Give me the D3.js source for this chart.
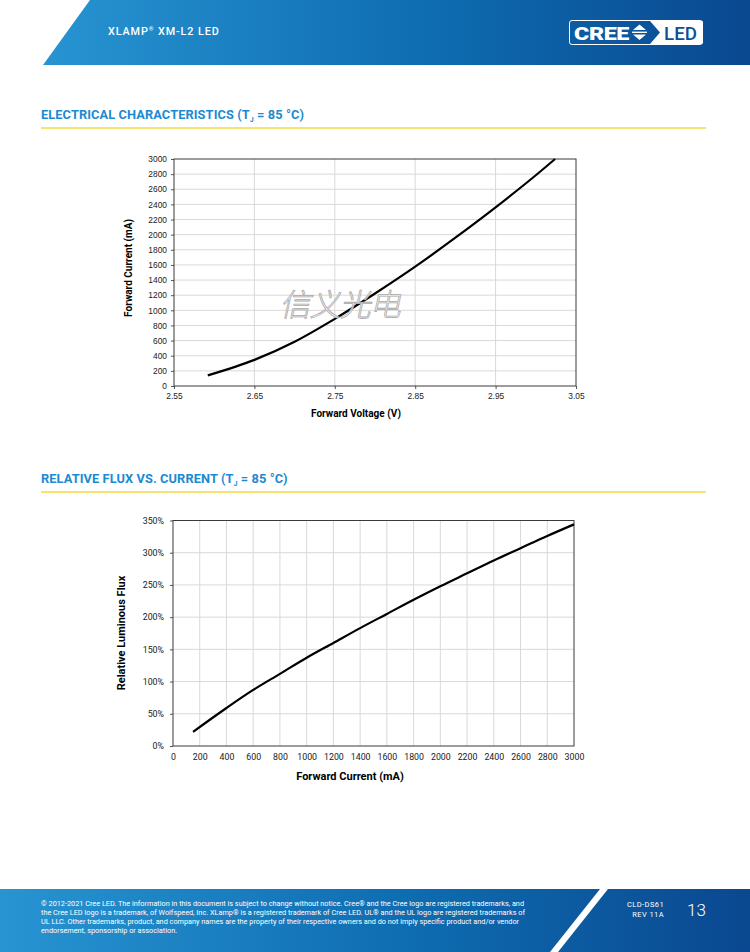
<!DOCTYPE html>
<html>
<head>
<meta charset="utf-8">
<script src="https://cdn.jsdelivr.net/npm/d3@7"></script>
<style>
body { margin: 0; background: #fff; }
svg { display: block; }
</style>
</head>
<body>
<script>
// chart 1: forward voltage vs current
var vfTicks = [2.55, 2.65, 2.75, 2.85, 2.95, 3.05];
var ifTicks = [0, 200, 400, 600, 800, 1000, 1200, 1400, 1600, 1800, 2000, 2200, 2400, 2600, 2800, 3000];
var vfVolts = [2.592, 2.65, 2.70, 2.75, 2.80, 2.85, 2.90, 2.95, 3.00, 3.024];
var vfCurrent = [140, 345, 585, 887, 1222, 1577, 1960, 2361, 2785, 3000];

// chart 2: relative flux vs current
var fluxTicks = [0, 50, 100, 150, 200, 250, 300, 350];
var curTicks = [0, 200, 400, 600, 800, 1000, 1200, 1400, 1600, 1800, 2000, 2200, 2400, 2600, 2800, 3000];
var fluxCurrent = [150, 400, 600, 800, 1000, 1200, 1400, 1600, 1800, 2000, 2200, 2400, 2600, 2800, 3000];
var fluxValue = [22, 59, 87, 112, 137, 160, 183, 205, 227, 248, 268, 288, 307, 326, 344];

var footerLines = [
  "\u00a9 2012-2021 Cree LED. The information in this document is subject to change without notice. Cree\u00ae and the Cree logo are registered trademarks, and",
  "the Cree LED logo is a trademark, of Wolfspeed, Inc. XLamp\u00ae is a registered trademark of Cree LED. UL\u00ae and the UL logo are registered trademarks of",
  "UL LLC. Other trademarks, product, and company names are the property of their respective owners and do not imply specific product and/or vendor",
  "endorsement, sponsorship or association."
];

var W = 750, H = 952;
var svg = d3.select("body").append("svg").attr("width", W).attr("height", H);
var defs = svg.append("defs");

var grad = defs.append("linearGradient").attr("id", "band").attr("x1", "0").attr("x2", "1").attr("y1", "0").attr("y2", "0");
grad.append("stop").attr("offset", "0%").attr("stop-color", "#2894d2");
grad.append("stop").attr("offset", "55%").attr("stop-color", "#0e6cb0");
grad.append("stop").attr("offset", "100%").attr("stop-color", "#0a4890");

// HEADER
svg.append("polygon").attr("points", "90,0 750,0 750,65 43,65").attr("fill", "url(#band)");
var ht = svg.append("text").attr("x", 108).attr("y", 35).attr("fill", "#fff")
  .style("font-family", "Roboto").style("font-size", "10.8px").style("font-weight", "500").style("letter-spacing", "0.9px");
ht.append("tspan").text("XLAMP");
ht.append("tspan").attr("dy", -4).style("font-size", "6px").text("\u00ae");
ht.append("tspan").attr("dy", 4).text(" XM-L2 LED");

// logo
var logo = svg.append("g");
logo.append("rect").attr("x", 569.5).attr("y", 20.5).attr("width", 133).attr("height", 24).attr("rx", 2.5)
  .attr("fill", "none").attr("stroke", "#fff").attr("stroke-width", 1);
logo.append("path").attr("d", "M650,21 L702,21 Q703,21 703,23 L703,42 Q703,44 701,44 L650,44 L660,32.5 Z").attr("fill", "#fff");
logo.append("text").attr("x", 574).attr("y", 39.5).attr("fill", "#fff")
  .style("font-family", "Roboto").style("font-weight", "900").style("font-size", "19px").style("letter-spacing", "-0.3px")
  .attr("textLength", 55).attr("lengthAdjust", "spacingAndGlyphs").text("CREE");
logo.append("path").attr("d", "M639.5,24.5 L646,30 L633,30 Z M639.5,40 L646,34.5 L633,34.5 Z").attr("fill", "#fff");
logo.append("rect").attr("x", 632).attr("y", 31.6).attr("width", 15).attr("height", 1.4).attr("fill", "#fff");
logo.append("text").attr("x", 664).attr("y", 39.5).attr("fill", "#0c4f97")
  .style("font-family", "Roboto").style("font-weight", "500").style("font-size", "19px")
  .attr("textLength", 33).attr("lengthAdjust", "spacingAndGlyphs").text("LED");

// SECTION TITLES
function sectionTitle(y, txt) {
  var t = svg.append("text").attr("x", 41).attr("y", y).attr("fill", "#1b8ad2")
    .style("font-family", "Roboto").style("font-weight", "700").style("font-size", "12.8px").style("letter-spacing", "0.1px");
  t.append("tspan").text(txt + " (T");
  t.append("tspan").attr("dy", 3).style("font-size", "7px").text("J");
  t.append("tspan").attr("dy", -3).text(" = 85 \u00b0C)");
  svg.append("line").attr("x1", 41).attr("x2", 706).attr("y1", y + 9).attr("y2", y + 9)
    .attr("stroke", "#f6d940").attr("stroke-width", 1.5);
}
sectionTitle(119, "ELECTRICAL CHARACTERISTICS");
sectionTitle(483, "RELATIVE FLUX VS. CURRENT");

// CHART 1
var x1 = d3.scaleLinear().domain([2.55, 3.05]).range([174, 576]);
var y1 = d3.scaleLinear().domain([0, 3000]).range([386, 159]);
var g1 = svg.append("g");

g1.selectAll("line.vg").data(vfTicks.slice(1, -1)).enter().append("line")
  .attr("x1", function(d){ return x1(d); }).attr("x2", function(d){ return x1(d); })
  .attr("y1", 159).attr("y2", 386).attr("stroke", "#d9d9d9");
g1.selectAll("line.hg").data(ifTicks.slice(1, -1)).enter().append("line")
  .attr("y1", function(d){ return y1(d); }).attr("y2", function(d){ return y1(d); })
  .attr("x1", 174).attr("x2", 576).attr("stroke", "#d9d9d9");

var ax1 = g1.append("g").attr("transform", "translate(0,386)")
  .call(d3.axisBottom(x1).tickValues(vfTicks).tickFormat(d3.format(".2f")).tickSize(3).tickPadding(4));
var ay1 = g1.append("g").attr("transform", "translate(174,0)")
  .call(d3.axisLeft(y1).tickValues(ifTicks).tickFormat(d3.format("d")).tickSize(3).tickPadding(4));
[ax1, ay1].forEach(function(a){
  a.select(".domain").remove();
  a.selectAll("line").attr("stroke", "#555");
  a.selectAll("text").style("font-family", "Liberation Sans").style("font-size", "8.4px").attr("fill", "#1a1a1a");
});
g1.append("rect").attr("x", 174).attr("y", 159).attr("width", 402).attr("height", 227)
  .attr("fill", "none").attr("stroke", "#3a3a3a").attr("stroke-width", 1);

// watermark
svg.append("text").attr("x", 341).attr("y", 316).attr("text-anchor", "middle")
  .attr("transform", "skewX(-12) translate(66,0)")
  .style("font-family", "Noto Sans CJK SC").style("font-size", "31px").style("font-weight", "300")
  .attr("fill", "#fff").attr("fill-opacity", 0.85).attr("stroke", "#a8a8a8").attr("stroke-width", 0.8)
  .style("letter-spacing", "-1px").text("信义光电");

var line1 = d3.line().x(function(d){ return x1(d[0]); }).y(function(d){ return y1(d[1]); }).curve(d3.curveMonotoneX);
g1.append("path").datum(d3.zip(vfVolts, vfCurrent)).attr("d", line1)
  .attr("fill", "none").attr("stroke", "#000").attr("stroke-width", 2.2);

g1.append("text").attr("x", 356).attr("y", 417).attr("text-anchor", "middle")
  .style("font-family", "Roboto").style("font-weight", "700").style("font-size", "10px").text("Forward Voltage (V)");
g1.append("text").attr("transform", "translate(132,268) rotate(-90)").attr("text-anchor", "middle")
  .style("font-family", "Roboto").style("font-weight", "700").style("font-size", "10px").text("Forward Current (mA)");

// CHART 2
var x2 = d3.scaleLinear().domain([0, 3000]).range([173, 574]);
var y2 = d3.scaleLinear().domain([0, 350]).range([746, 520.5]);
var g2 = svg.append("g");

g2.selectAll("line.vg").data(curTicks.slice(1, -1)).enter().append("line")
  .attr("x1", function(d){ return x2(d); }).attr("x2", function(d){ return x2(d); })
  .attr("y1", 520.5).attr("y2", 746).attr("stroke", "#d9d9d9");
g2.selectAll("line.hg").data(fluxTicks.slice(1, -1)).enter().append("line")
  .attr("y1", function(d){ return y2(d); }).attr("y2", function(d){ return y2(d); })
  .attr("x1", 173).attr("x2", 574).attr("stroke", "#d9d9d9");

var ax2 = g2.append("g").attr("transform", "translate(0,746)")
  .call(d3.axisBottom(x2).tickValues(curTicks).tickFormat(d3.format("d")).tickSize(0).tickPadding(8));
var ay2 = g2.append("g").attr("transform", "translate(173,0)")
  .call(d3.axisLeft(y2).tickValues(fluxTicks).tickFormat(function(d){ return d + "%"; }).tickSize(3).tickPadding(6));
[ax2, ay2].forEach(function(a){
  a.select(".domain").remove();
  a.selectAll("line").attr("stroke", "#555");
  a.selectAll("text").style("font-family", "Roboto").style("font-size", "8.8px").attr("fill", "#1a1a1a");
});
g2.append("rect").attr("x", 173).attr("y", 520.5).attr("width", 401).attr("height", 225.5)
  .attr("fill", "none").attr("stroke", "#3a3a3a").attr("stroke-width", 1);

var line2 = d3.line().x(function(d){ return x2(d[0]); }).y(function(d){ return y2(d[1]); }).curve(d3.curveMonotoneX);
g2.append("path").datum(d3.zip(fluxCurrent, fluxValue)).attr("d", line2)
  .attr("fill", "none").attr("stroke", "#000").attr("stroke-width", 2.2);

g2.append("text").attr("x", 350).attr("y", 780).attr("text-anchor", "middle")
  .style("font-family", "Roboto").style("font-weight", "700").style("font-size", "11px").text("Forward Current (mA)");
g2.append("text").attr("transform", "translate(125,633) rotate(-90)").attr("text-anchor", "middle")
  .style("font-family", "Roboto").style("font-weight", "700").style("font-size", "11px").text("Relative Luminous Flux");

// FOOTER
svg.append("rect").attr("x", 0).attr("y", 889).attr("width", W).attr("height", H - 889).attr("fill", "url(#band)");
svg.append("polygon").attr("points", "600,889 608,889 558,952 550,952").attr("fill", "#fff");
svg.selectAll("text.foot").data(footerLines).enter().append("text")
  .attr("x", 41).attr("y", function(d, i){ return 906 + i * 9; })
  .attr("fill", "#fff").style("font-family", "Roboto").style("font-size", "7.3px").text(function(d){ return d; });
svg.append("text").attr("x", 664).attr("y", 907).attr("text-anchor", "end").attr("fill", "#fff")
  .style("font-family", "Roboto").style("font-size", "7.5px").style("letter-spacing", "0.4px").text("CLD-DS61");
svg.append("text").attr("x", 664).attr("y", 917).attr("text-anchor", "end").attr("fill", "#fff")
  .style("font-family", "Roboto").style("font-size", "7.5px").style("letter-spacing", "0.4px").text("REV 11A");
svg.append("text").attr("x", 687).attr("y", 916).attr("fill", "#fff")
  .style("font-family", "Roboto").style("font-weight", "300").style("font-size", "17px").text("13");
</script>
</body>
</html>
